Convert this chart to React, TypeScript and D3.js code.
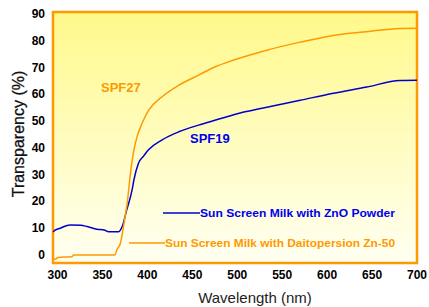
import * as d3 from "d3";
import { useRef, useEffect } from "react";

// nm, % transparency
const znoWave = [295, 297, 303, 314, 326, 333, 344, 352, 357, 368, 372, 377, 383, 385, 390, 396, 401, 416, 435, 457, 476, 496, 533, 570, 607, 644, 681, 700];
const znoValue = [8.6, 9.2, 10, 11.2, 11.1, 10.6, 9.6, 9.3, 8.7, 8.7, 10.6, 16.8, 24.3, 28, 34.2, 37, 39.2, 42.9, 46, 48.5, 50.4, 52.4, 55.2, 57.8, 60.4, 62.7, 65.2, 65.3];

const daitoWave = [295, 298, 300, 316, 318, 340, 364, 366, 370, 374, 378, 381, 385, 388.5, 394, 401.5, 416, 435, 457, 475.5, 496, 533, 570, 607, 644, 681, 700];
const daitoValue = [-1.6, -1.6, -0.9, -0.7, 0, 0, 0, 1.9, 4.4, 11.8, 20.5, 30, 39.2, 44.1, 49.1, 54.1, 59, 63.4, 67.2, 70.3, 72.8, 76.5, 79.5, 82, 83.4, 84.6, 84.7];

const xTicks = [300, 350, 400, 450, 500, 550, 600, 650, 700];
const yTicks = [0, 10, 20, 30, 40, 50, 60, 70, 80, 90];

const seriesNames = ["Sun Screen Milk  with ZnO Powder", "Sun Screen Milk with Daitopersion Zn-50"];
const spfLabels = ["SPF19", "SPF27"];

export default function App() {
  const chartRef = useRef(null);
  const width = 429;
  const height = 307;

  useEffect(() => {
    const svg = d3.select(chartRef.current);
    svg.selectAll("*").remove();

    const x = d3.scaleLinear().domain([295, 700]).range([53, 417]);
    const y = d3.scaleLinear().domain([-3, 90.75]).range([263, 12]);

    const defs = svg.append("defs");
    const grad = defs
      .append("linearGradient")
      .attr("id", "bg")
      .attr("x1", 0)
      .attr("y1", 0)
      .attr("x2", 0)
      .attr("y2", 1);
    grad.append("stop").attr("offset", "0%").attr("stop-color", "#fff98a");
    grad.append("stop").attr("offset", "100%").attr("stop-color", "#fffff2");

    svg
      .append("rect")
      .attr("x", x(295))
      .attr("y", y(90.75))
      .attr("width", x(700) - x(295))
      .attr("height", y(-3) - y(90.75))
      .attr("fill", "url(#bg)")
      .attr("stroke", "#ff9900")
      .attr("stroke-width", 2.5);

    const line = d3
      .line()
      .x((d) => x(d[0]))
      .y((d) => y(d[1]))
      .curve(d3.curveMonotoneX);

    svg
      .append("path")
      .attr("d", line(d3.zip(znoWave, znoValue)))
      .attr("fill", "none")
      .attr("stroke", "#0000cc")
      .attr("stroke-width", 1.5);

    svg
      .append("path")
      .attr("d", line(d3.zip(daitoWave, daitoValue)))
      .attr("fill", "none")
      .attr("stroke", "#ff9900")
      .attr("stroke-width", 1.5);

    // Ticks
    svg
      .selectAll(".xt")
      .data(xTicks)
      .join("text")
      .attr("x", (d) => x(d))
      .attr("y", 279)
      .attr("text-anchor", "middle")
      .attr("font-family", "Liberation Sans, Arial, sans-serif")
      .attr("font-weight", "bold")
      .attr("font-size", 12)
      .text((d) => d);

    svg
      .selectAll(".yt")
      .data(yTicks)
      .join("text")
      .attr("x", 45)
      .attr("y", (d) => y(d) + 4)
      .attr("text-anchor", "end")
      .attr("font-family", "Liberation Sans, Arial, sans-serif")
      .attr("font-weight", "bold")
      .attr("font-size", 12)
      .text((d) => d);

    // Titles
    svg
      .append("text")
      .attr("x", 255)
      .attr("y", 303)
      .attr("text-anchor", "middle")
      .attr("font-family", "Liberation Sans, Arial, sans-serif")
      .attr("font-size", 15)
      .attr("fill", "#222")
      .text("Wavelength (nm)");

    svg
      .append("text")
      .attr("transform", "translate(24,134) rotate(-90)")
      .attr("text-anchor", "middle")
      .attr("font-family", "Liberation Sans, Arial, sans-serif")
      .attr("font-size", 16)
      .attr("fill", "#111")
      .attr("stroke", "#111")
      .attr("stroke-width", 0.3)
      .text("Transparency (%)");

    // SPF labels
    svg
      .append("text")
      .attr("x", 190)
      .attr("y", 143)
      .attr("font-family", "Liberation Sans, Arial, sans-serif")
      .attr("font-weight", "bold")
      .attr("font-size", 13)
      .attr("fill", "#0000ee")
      .text(spfLabels[0]);

    svg
      .append("text")
      .attr("x", 101)
      .attr("y", 92)
      .attr("font-family", "Liberation Sans, Arial, sans-serif")
      .attr("font-weight", "bold")
      .attr("font-size", 13)
      .attr("fill", "#ff9900")
      .text(spfLabels[1]);

    // Legend
    const legend = [
      { name: seriesNames[0], color: "#0000cc", text: "#0000ee", x0: 163, x1: 200, ly: 213 },
      { name: seriesNames[1], color: "#ff9900", text: "#ff9900", x0: 129, x1: 165, ly: 243 },
    ];
    const lg = svg.selectAll(".lg").data(legend).join("g");
    lg.append("line")
      .attr("x1", (d) => d.x0)
      .attr("x2", (d) => d.x1)
      .attr("y1", (d) => d.ly)
      .attr("y2", (d) => d.ly)
      .attr("stroke", (d) => d.color)
      .attr("stroke-width", 1.5);
    lg.append("text")
      .attr("x", (d) => d.x1)
      .attr("y", (d) => d.ly + 4)
      .attr("font-family", "Liberation Sans, Arial, sans-serif")
      .attr("font-weight", "bold")
      .attr("font-size", 11)
      .attr("textLength", (d) => 395 - d.x1)
      .attr("lengthAdjust", "spacingAndGlyphs")
      .attr("fill", (d) => d.text)
      .text((d) => d.name);
  }, []);

  return (
    <svg
      ref={chartRef}
      width={width}
      height={height}
      style={{ position: "absolute", left: 0, top: 0, background: "#fff" }}
    ></svg>
  );
}
